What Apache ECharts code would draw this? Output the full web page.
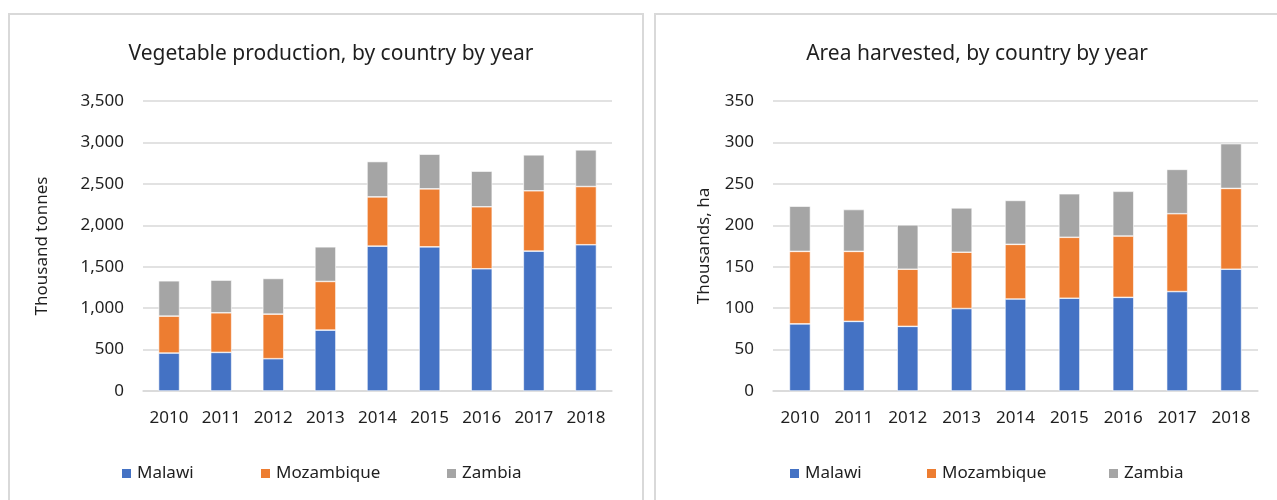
<!DOCTYPE html>
<html>
<head>
<meta charset="utf-8">
<script src="https://cdn.jsdelivr.net/npm/echarts@6/dist/echarts.min.js"></script>
<style>
html,body{margin:0;padding:0;background:#fff;}
#c{width:1277px;height:500px;}
</style>
</head>
<body>
<div id="c"></div>
<script>
const years = ['2010','2011','2012','2013','2014','2015','2016','2017','2018'];
const countries = ['Malawi','Mozambique','Zambia'];
// Vegetable production, thousand tonnes
const prodMalawi = [458, 466, 390, 735, 1748, 1740, 1475, 1688, 1765];
const prodMozambique = [446, 478, 538, 587, 595, 700, 748, 728, 703];
const prodZambia = [426, 394, 430, 418, 426, 418, 430, 434, 442];
// Area harvested, thousands ha
const areaMalawi = [81, 84, 78, 99.5, 111, 112, 113, 120, 147];
const areaMozambique = [87.5, 84.5, 69, 68, 66, 73.5, 74, 94, 97.5];
const areaZambia = [54.5, 50.5, 53.5, 53.5, 53, 52.5, 54, 53.5, 54];
const colors = ['#4472C4', '#ED7D31', '#A5A5A5'];

const FONT = 'Noto Sans';
const TXT = '#1f1f1f';
const chart = echarts.init(document.getElementById('c'), null, {renderer: 'canvas'});

function yAxis(idx, max, interval, name, gap) {
  return {
    type: 'value', gridIndex: idx, min: 0, max: max, interval: interval,
    name: name, nameLocation: 'middle', nameRotate: 90, nameGap: gap,
    nameTextStyle: {fontFamily: FONT, fontSize: 17, color: TXT},
    axisLine: {show: false}, axisTick: {show: false},
    axisLabel: {fontFamily: FONT, fontSize: 17, color: TXT, margin: 19,
      formatter: v => v.toLocaleString('en-US')},
    splitLine: {lineStyle: {color: '#d9d9d9', width: 1.5}}
  };
}
function xAxis(idx) {
  return {
    type: 'category', gridIndex: idx, data: years,
    axisLine: {lineStyle: {color: '#d9d9d9', width: 1.5}},
    axisTick: {show: false},
    axisLabel: {fontFamily: FONT, fontSize: 17, color: TXT, margin: 19}
  };
}
function bar(name, data, idx, ci) {
  return {
    type: 'bar', name: name, stack: 's' + idx, data: data,
    xAxisIndex: idx, yAxisIndex: idx, barWidth: 21,
    itemStyle: {color: colors[ci], borderColor: '#ffffff', borderWidth: 0.6},
    emphasis: {disabled: true}
  };
}
function legend(name, left) {
  return {
    data: [name], left: left, top: 465, itemWidth: 11, itemHeight: 11,
    icon: 'rect', padding: 0,
    textStyle: {fontFamily: FONT, fontSize: 17, color: TXT}
  };
}

chart.setOption({
  animation: false,
  color: colors,
  graphic: [
    {type: 'rect', shape: {x: 9, y: 14, width: 634, height: 500}, style: {fill: 'none', stroke: '#d9d9d9', lineWidth: 2}},
    {type: 'rect', shape: {x: 655, y: 14, width: 700, height: 500}, style: {fill: 'none', stroke: '#d9d9d9', lineWidth: 2}}
  ],
  title: [
    {text: 'Vegetable production, by country by year', left: 326, top: 39, textAlign: 'center',
     textStyle: {fontFamily: FONT, fontSize: 21, fontWeight: 'normal', color: TXT}},
    {text: 'Area harvested, by country by year', left: 972, top: 39, textAlign: 'center',
     textStyle: {fontFamily: FONT, fontSize: 21, fontWeight: 'normal', color: TXT}}
  ],
  legend: [
    legend('Malawi', 120), legend('Mozambique', 259), legend('Zambia', 445),
    legend('Malawi', 788), legend('Mozambique', 925), legend('Zambia', 1107)
  ],
  grid: [
    {left: 143, right: 665, top: 101, bottom: 109},
    {left: 773, right: 19, top: 101, bottom: 109}
  ],
  xAxis: [xAxis(0), xAxis(1)],
  yAxis: [yAxis(0, 3500, 500, 'Thousand tonnes', 92), yAxis(1, 350, 50, 'Thousands, ha', 60)],
  series: [
    bar(countries[0], prodMalawi, 0, 0),
    bar(countries[1], prodMozambique, 0, 1),
    bar(countries[2], prodZambia, 0, 2),
    bar(countries[0], areaMalawi, 1, 0),
    bar(countries[1], areaMozambique, 1, 1),
    bar(countries[2], areaZambia, 1, 2)
  ]
});
</script>
</body>
</html>
